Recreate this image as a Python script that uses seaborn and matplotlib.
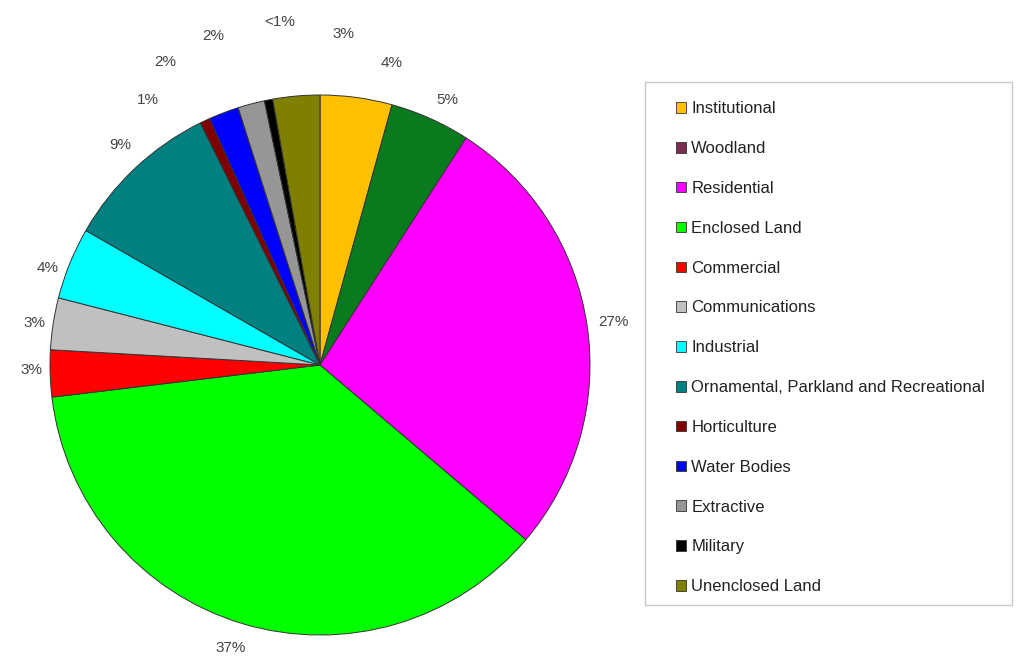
import matplotlib
matplotlib.use("Agg")
import matplotlib.pyplot as plt
from matplotlib.patches import Patch, Rectangle
import numpy as np
import seaborn as sns

sns.set_theme(style="white")
plt.rcParams["font.family"] = ["Liberation Sans", "DejaVu Sans"]

# Land use categories and their share of the area (percent)
categories = [
    "Institutional", "Woodland", "Residential", "Enclosed Land", "Commercial",
    "Communications", "Industrial", "Ornamental, Parkland and Recreational",
    "Horticulture", "Water Bodies", "Extractive", "Military", "Unenclosed Land",
]
shares = [4.3, 4.8, 27.1, 36.9, 2.8, 3.1, 4.3, 9.4, 0.6, 1.8, 1.6, 0.5, 2.8]
value_labels = ["4%", "5%", "27%", "37%", "3%", "3%", "4%", "9%",
                "1%", "2%", "2%", "<1%", "3%"]

slice_colors = ["#FFC000", "#0A7A1E", "#FF00FF", "#00FF00", "#FF0000",
                "#C0C0C0", "#00FFFF", "#008080", "#800000", "#0000FF",
                "#969696", "#000000", "#808000"]
legend_colors = list(slice_colors)
legend_colors[1] = "#7B2D4F"

# Label placement: angle (degrees clockwise from top) and radius (pie radii)
label_angles = [13.4, 25.6, 81.7, 197.6, 269.0, 278.4, 289.6, 317.7,
                327.0, 333.0, 342.0, 353.3, 4.1]
label_radii = [1.15, 1.09, 1.10, 1.10, 1.07, 1.07, 1.07, 1.10,
               1.17, 1.26, 1.28, 1.28, 1.23]

W, H = 1016, 658
fig = plt.figure(figsize=(W / 100, H / 100), dpi=100)
fig.patch.set_facecolor("white")

cx, cy, r = 320, 365, 270
ax = fig.add_axes([(cx - r) / W, (H - cy - r) / H, 2 * r / W, 2 * r / H])

ax.pie(shares, colors=slice_colors, startangle=90, counterclock=False,
       radius=1.0,
       wedgeprops=dict(edgecolor="#333333", linewidth=0.7))
ax.set_xlim(-1, 1)
ax.set_ylim(-1, 1)
ax.set_aspect("equal")
ax.axis("off")

for lab, ang, rad in zip(value_labels, label_angles, label_radii):
    t = np.deg2rad(ang)
    ax.text(rad * np.sin(t), rad * np.cos(t), lab, ha="center", va="center",
            fontsize=11, color="#444444", clip_on=False)

# Legend box
fig.patches.append(Rectangle((645 / W, 1 - 605 / H), 367 / W, 523 / H,
                             transform=fig.transFigure, facecolor="white",
                             edgecolor="#c8c8c8", linewidth=1.0, zorder=0))

handles = [Patch(facecolor=c, edgecolor="#333333", linewidth=0.6)
           for c in legend_colors]
fig.legend(handles, categories, loc="upper left",
           bbox_to_anchor=(668 / W, 1 - 93 / H), frameon=False,
           fontsize=12, labelspacing=1.49, handlelength=0.6,
           handleheight=0.6, handletextpad=0.3, borderpad=0,
           labelcolor="#222222")

fig.savefig("out.png", dpi=100, facecolor="white")
